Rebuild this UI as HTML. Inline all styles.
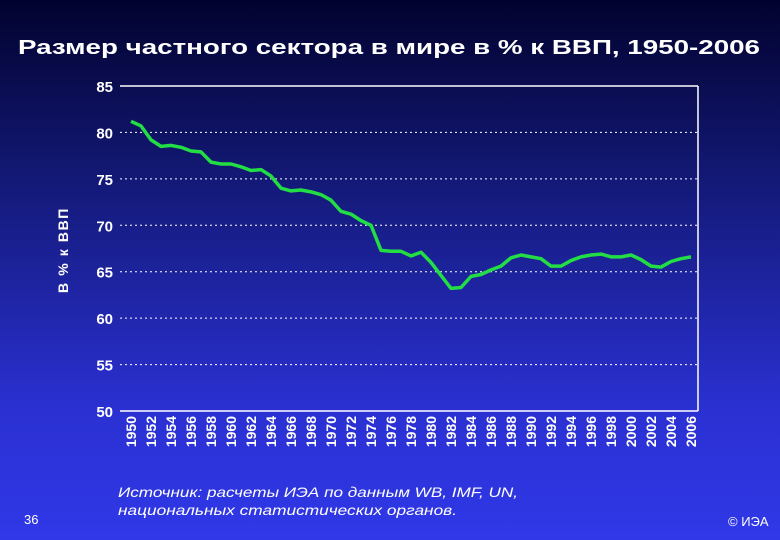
<!DOCTYPE html>
<html><head><meta charset="utf-8"><style>
body{margin:0;width:780px;height:540px;overflow:hidden;background:linear-gradient(#02022e 0%,#141a7a 35%,#2a30d0 75%,#3038e8 100%);font-family:"Liberation Sans",sans-serif;}
svg{position:absolute;left:0;top:0}
</style></head><body>
<svg width="780" height="540">
<text x="18" y="54" fill="#fff" font-size="20" font-weight="bold" textLength="742" lengthAdjust="spacingAndGlyphs">Размер частного сектора в мире в % к ВВП, 1950-2006</text>
<text transform="translate(68,250) rotate(-90)" fill="#fff" font-size="14" font-weight="bold" text-anchor="middle" letter-spacing="1.6">В % к ВВП</text>
<g id="grid"></g><g id="ylab"></g><g id="xlab"></g>
<path id="line" fill="none" stroke="#22dd44" stroke-width="3.5" stroke-linejoin="round"/>
<text x="24" y="524" fill="#fff" font-size="13">36</text>
<text x="118" y="497" fill="#fff" font-size="14" font-style="italic" textLength="400" lengthAdjust="spacingAndGlyphs">Источник: расчеты ИЭА по данным WB, IMF, UN,</text>
<text x="118" y="515" fill="#fff" font-size="14" font-style="italic" textLength="339" lengthAdjust="spacingAndGlyphs">национальных статистических органов.</text>
<text x="728" y="526" fill="#fff" font-size="13">© ИЭА</text>
</svg>
<script>
const years=[1950,1951,1952,1953,1954,1955,1956,1957,1958,1959,1960,1961,1962,1963,1964,1965,1966,1967,1968,1969,1970,1971,1972,1973,1974,1975,1976,1977,1978,1979,1980,1981,1982,1983,1984,1985,1986,1987,1988,1989,1990,1991,1992,1993,1994,1995,1996,1997,1998,1999,2000,2001,2002,2003,2004,2005,2006];
const values=[81.2,80.7,79.2,78.5,78.6,78.4,78.0,77.9,76.8,76.6,76.6,76.3,75.9,76.0,75.3,74.0,73.7,73.8,73.6,73.3,72.7,71.5,71.2,70.5,70.0,67.3,67.2,67.2,66.7,67.1,66.0,64.6,63.2,63.3,64.5,64.7,65.2,65.6,66.5,66.8,66.6,66.4,65.6,65.6,66.2,66.6,66.8,66.9,66.6,66.6,66.8,66.3,65.6,65.5,66.1,66.4,66.6];
const yTicks=[50,55,60,65,70,75,80,85];
const NS="http://www.w3.org/2000/svg";
const X0=120,X1=698,Y0=411,Y1=86;
const xs=y=>131+(y-1950)*10;
const ys=v=>Y0-(v-50)/35*(Y0-Y1);
function mk(t,a,p){const e=document.createElementNS(NS,t);for(const k in a)e.setAttribute(k,a[k]);p.appendChild(e);return e;}
const g=document.getElementById('grid'),yl=document.getElementById('ylab'),xl=document.getElementById('xlab');
yTicks.forEach(v=>{
 const y=ys(v);
 const l=mk('line',{x1:X0,x2:X1,y1:y,y2:y,stroke:'#fff','stroke-width':(v==50||v==85)?1.5:1,'stroke-dasharray':(v==50||v==85)?'':'2,3'},g);
 
 
 const t=mk('text',{x:113,y:y+6,fill:'#fff','font-size':15,'font-weight':'bold','text-anchor':'end'},yl);
 t.textContent=v;
 
 
});
const r=mk('line',{x1:X1,x2:X1,y1:Y1,y2:Y0,stroke:'#fff','stroke-width':1.5},g);


years.filter(y=>y%2==0).forEach(y=>{
 const x=xs(y)+5;
 const t=mk('text',{transform:`translate(${x},416) rotate(-90)`,fill:'#fff','font-size':14,'font-weight':'bold','text-anchor':'end'},xl);
 t.textContent=y;
 
 
});
document.getElementById('line').setAttribute('d',values.map((v,i)=>(i?'L':'M')+xs(years[i])+','+ys(v)).join(''));
</script>
</body></html>
